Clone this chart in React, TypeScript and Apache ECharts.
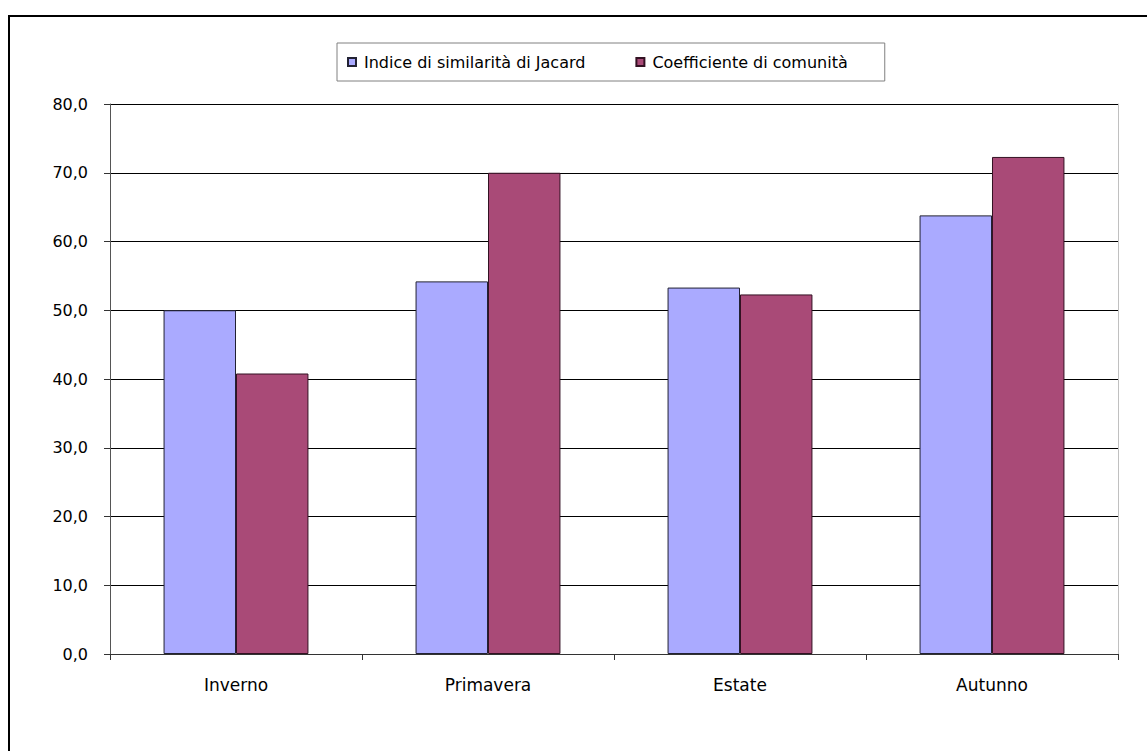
import React, { useEffect, useRef } from "react";
import * as echarts from "echarts";

const categories = ["Inverno", "Primavera", "Estate", "Autunno"];
const seriesNames = ["Indice di similarità di Jacard", "Coefficiente di comunità"];
const jacard = [50.0, 54.2, 53.3, 63.8];
const comunita = [40.8, 70.0, 52.3, 72.3];
const yMin = 0;
const yMax = 80;
const yInterval = 10;

const FONT = "'DejaVu Sans', Verdana, sans-serif";

export default function App() {
  const ref = useRef<HTMLDivElement>(null);
  useEffect(() => {
    if (!ref.current) return;
    const chart = echarts.init(ref.current, undefined, { renderer: "svg" });
    chart.setOption({
      animation: false,
      backgroundColor: "#ffffff",
      textStyle: { fontFamily: FONT },
      graphic: [
        {
          type: "rect",
          shape: { x: 9, y: 16, width: 1300, height: 900 },
          style: { fill: "none", stroke: "#000000", lineWidth: 2 },
          silent: true,
          z: -1,
        },
      ],
      legend: {
        left: 337,
        top: 43,
        padding: [11, 37, 11, 10],
        borderColor: "#808080",
        borderWidth: 1,
        itemWidth: 8,
        itemHeight: 8,
        itemGap: 50,
        icon: "rect",
        textStyle: { fontFamily: FONT, fontSize: 16, color: "#000", padding: [0, 0, 0, 3] },
        data: seriesNames,
      },
      grid: { left: 110, right: 29, top: 104, bottom: 97, containLabel: false },
      xAxis: {
        type: "category",
        data: categories,
        boundaryGap: true,
        axisLine: { show: true, lineStyle: { color: "#333333", width: 1 } },
        axisTick: { show: true, alignWithLabel: false, length: 6, lineStyle: { color: "#333333" } },
        axisLabel: { fontFamily: FONT, fontSize: 17, color: "#000", margin: 22 },
        splitLine: { show: false },
      },
      yAxis: [
        {
          type: "value",
          min: yMin,
          max: yMax,
          interval: yInterval,
          axisLine: { show: true, lineStyle: { color: "#555555", width: 1 } },
          axisTick: { show: true, length: 6, lineStyle: { color: "#333333" } },
          axisLabel: {
            fontFamily: FONT,
            fontSize: 16,
            color: "#000",
            margin: 22,
            formatter: (v: number) => v.toFixed(1).replace(".", ","),
          },
          splitLine: { show: true, lineStyle: { color: "#000000", width: 1 } },
        },
        {
          type: "value",
          min: yMin,
          max: yMax,
          interval: yInterval,
          position: "right",
          axisLine: { show: true, lineStyle: { color: "#c0c0c0", width: 1 } },
          axisTick: { show: false },
          axisLabel: { show: false },
          splitLine: { show: false },
        },
      ],
      series: [
        {
          name: seriesNames[0],
          type: "bar",
          data: jacard,
          barGap: "0%",
          barCategoryGap: "42.5%",
          itemStyle: { color: "#AAAAFF", borderColor: "#222233", borderWidth: 1 },
        },
        {
          name: seriesNames[1],
          type: "bar",
          data: comunita,
          barGap: "0%",
          barCategoryGap: "42.5%",
          itemStyle: { color: "#A94A77", borderColor: "#331122", borderWidth: 1 },
        },
      ],
    });
    return () => chart.dispose();
  }, []);
  return (
    <div
      ref={ref}
      style={{ position: "fixed", left: 0, top: 0, width: 1147, height: 751 }}
    />
  );
}
